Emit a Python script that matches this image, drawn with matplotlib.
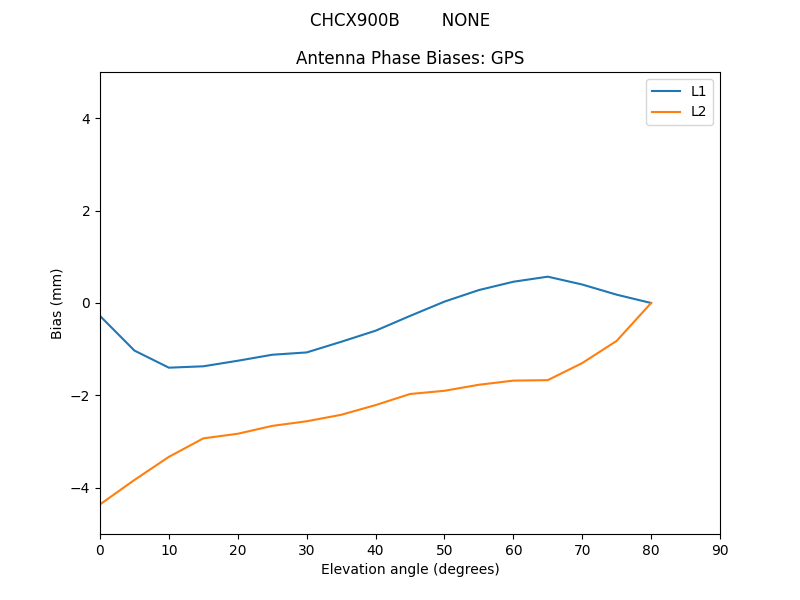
import numpy as np
import matplotlib
matplotlib.use("Agg")
import matplotlib.pyplot as plt

elevation = [0, 5, 10, 15, 20, 25, 30, 35, 40, 45, 50, 55, 60, 65, 70, 75, 80]
l1_bias = [-0.28, -1.03, -1.40, -1.37, -1.25, -1.12, -1.07, -0.84, -0.60, -0.28,
           0.03, 0.28, 0.46, 0.57, 0.40, 0.18, 0.0]
l2_bias = [-4.36, -3.83, -3.33, -2.93, -2.83, -2.66, -2.56, -2.42, -2.21, -1.97,
           -1.90, -1.77, -1.68, -1.67, -1.30, -0.82, 0.0]

fig = plt.figure(figsize=(8, 6), dpi=100)
fig.suptitle("CHCX900B        NONE")
ax = fig.add_subplot(111)
ax.plot(elevation, l1_bias, label="L1")
ax.plot(elevation, l2_bias, label="L2")
ax.set_xlim(0, 90)
ax.set_ylim(-5, 5)
ax.set_xlabel("Elevation angle (degrees)")
ax.set_ylabel("Bias (mm)")
ax.set_title("Antenna Phase Biases: GPS")
ax.legend(loc="upper right")

plt.savefig("out.png", dpi=100)
plt.close()
